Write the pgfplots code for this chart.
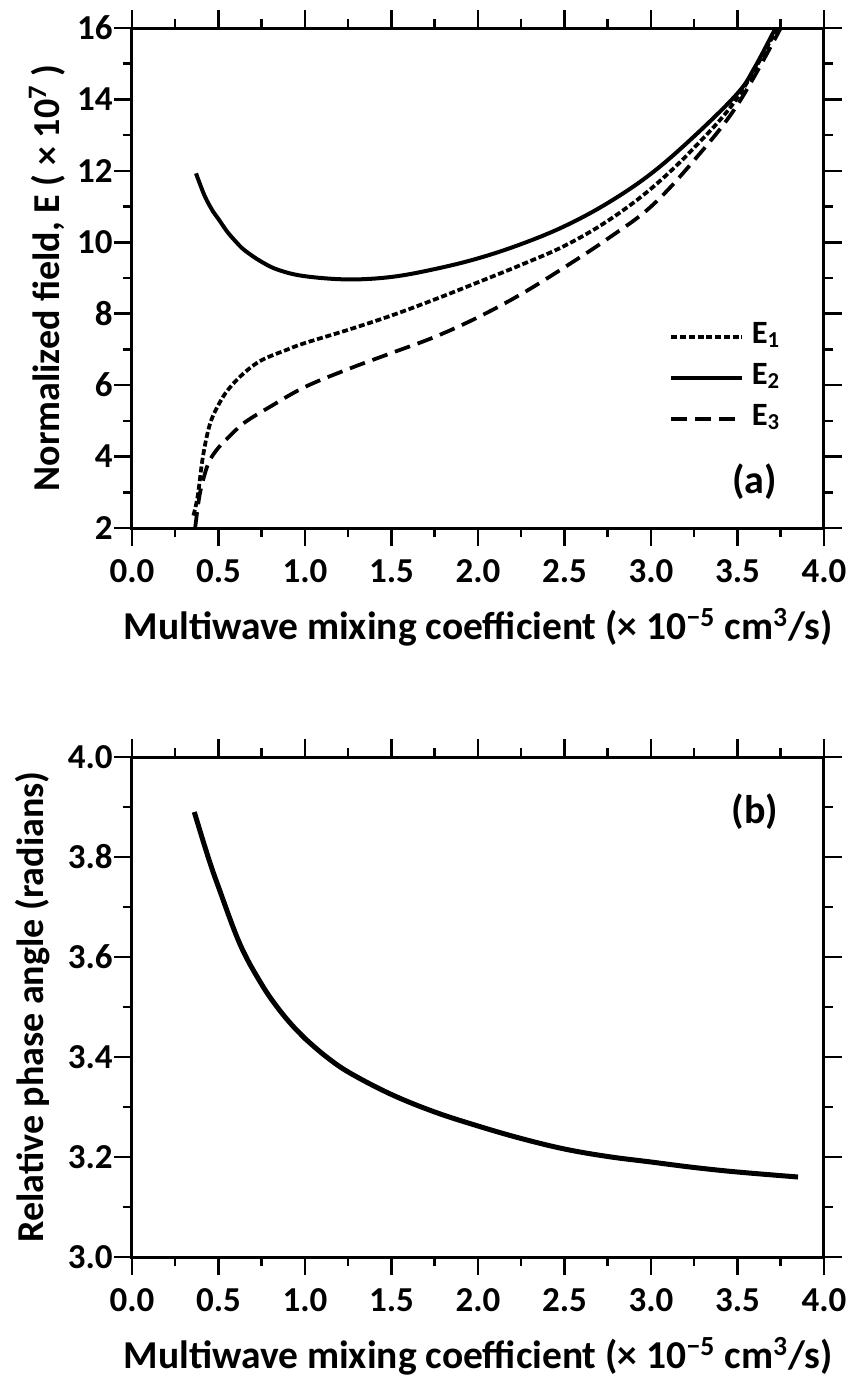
\documentclass[border=0pt]{standalone}
\usepackage{pgfplots}
\pgfplotsset{compat=1.18}
\usepackage{fontspec}
\setmainfont{Carlito}

\pgfplotstableread{
x y
0.355 2.35
0.38 2.9
0.41 4.0
0.45 4.9
0.5 5.45
0.56 5.9
0.65 6.35
0.75 6.7
0.9 7.0
1.0 7.18
1.25 7.55
1.5 7.95
1.75 8.4
2.0 8.88
2.25 9.37
2.5 9.9
2.75 10.6
3.0 11.5
3.25 12.65
3.5 14.05
3.73 16.0
}\Eone

\pgfplotstableread{
x y
0.37 11.93
0.42 11.3
0.47 10.85
0.5 10.65
0.55 10.3
0.6 10.02
0.65 9.78
0.75 9.45
0.85 9.22
1.0 9.05
1.25 8.96
1.5 9.03
1.75 9.25
2.0 9.55
2.25 9.95
2.5 10.45
2.75 11.1
3.0 11.92
3.25 12.97
3.5 14.17
3.6 14.9
3.72 16.0
}\Etwo

\pgfplotstableread{
x y
0.365 2.0
0.39 2.9
0.42 3.5
0.45 3.9
0.5 4.25
0.56 4.55
0.65 4.95
0.8 5.4
1.0 5.95
1.25 6.45
1.5 6.9
1.75 7.35
2.0 7.9
2.25 8.55
2.5 9.3
2.75 10.1
3.0 11.0
3.25 12.3
3.5 13.85
3.75 16.0
}\Ethree

\pgfplotstableread{
x y
0.36 3.89
0.44 3.80
0.5 3.74
0.625 3.625
0.75 3.545
0.85 3.495
0.94 3.458
1.0 3.437
1.125 3.40
1.26 3.368
1.5 3.325
1.75 3.29
2.0 3.262
2.25 3.237
2.5 3.216
2.75 3.201
3.0 3.19
3.25 3.179
3.5 3.17
3.85 3.16
}\Phase

\begin{document}
\begin{tikzpicture}
\useasboundingbox (-52.8pt,-340.8pt) rectangle (286.4pt,211.2pt);
\pgfplotsset{
  myaxis/.style={
    scale only axis, width=276.8pt, height=200pt,
    at={(0,0)}, anchor=south west,
    xmin=0, xmax=4, xtick={0,0.5,...,4}, minor x tick num=1,
    tick align=outside,
    major tick length=7.2pt, minor tick length=3.6pt,
    axis line style={line width=1.2pt},
    every tick/.style={black, line width=1pt},
    /pgf/number format/assume math mode=true,
    xticklabel style={font=\fontsize{14}{14}\bfseries\selectfont, yshift=-2pt, /pgf/number format/fixed, /pgf/number format/fixed zerofill, /pgf/number format/precision=1},
    yticklabel style={font=\fontsize{14}{14}\bfseries\selectfont, xshift=3pt},
    xlabel style={font=\fontsize{15.8}{15.8}\bfseries\selectfont, at={(axis description cs:0.5,0)}, anchor=center, yshift=-39.6pt},
    ylabel style={font=\fontsize{15.2}{15.2}\bfseries\selectfont, anchor=center},
    xlabel={Multiwave mixing coefficient (× 10\textsuperscript{−5} cm\textsuperscript{3}/s)},
  }
}
\begin{axis}[myaxis,
  ymin=2, ymax=16, ytick={2,4,...,16}, minor y tick num=1,
  ylabel={Normalized field, E ( × 10\textsuperscript{7} )},
  ylabel style={at={(axis description cs:-0.123,0.5)}},
  legend style={draw=none, fill=none, at={(axis description cs:0.765,0.3)}, anchor=west,
    font=\fontsize{13}{13}\bfseries\selectfont, row sep=5.4pt, column sep=3pt,
    nodes={inner sep=0pt, text height=8pt, text depth=3pt}},
  legend cell align=left,
  legend image code/.code={\draw[#1] (0pt,0pt) -- (28.4pt,0pt);},
]
\addplot[black, line width=1.5pt, dash pattern=on 2.4pt off 1.1pt, smooth, tension=0.6] table {\Eone};
\addlegendentry{E\textsubscript{1}}
\addplot[black, line width=1.6pt, smooth, tension=0.6] table {\Etwo};
\addlegendentry{E\textsubscript{2}}
\addplot[black, line width=1.5pt, dash pattern=on 6.4pt off 3.2pt, smooth, tension=0.6] table {\Ethree};
\addlegendentry{E\textsubscript{3}}
\node[font=\fontsize{16}{16}\bfseries\selectfont] at (axis cs:3.6,3.3) {(a)};
\end{axis}

\begin{axis}[myaxis, at={(0pt,-291.6pt)},
  ymin=3, ymax=4, ytick={3.0,3.2,3.4,3.6,3.8,4.0}, minor y tick num=1,
  yticklabel style={/pgf/number format/fixed, /pgf/number format/fixed zerofill, /pgf/number format/precision=1},
  ylabel={Relative phase angle (radians)},
  ylabel style={at={(axis description cs:-0.143,0.5)}},
]
\addplot[black, line width=2pt, smooth, tension=0.6] table {\Phase};
\node[font=\fontsize{16}{16}\bfseries\selectfont] at (axis cs:3.6,3.89) {(b)};
\end{axis}
\end{tikzpicture}
\end{document}
